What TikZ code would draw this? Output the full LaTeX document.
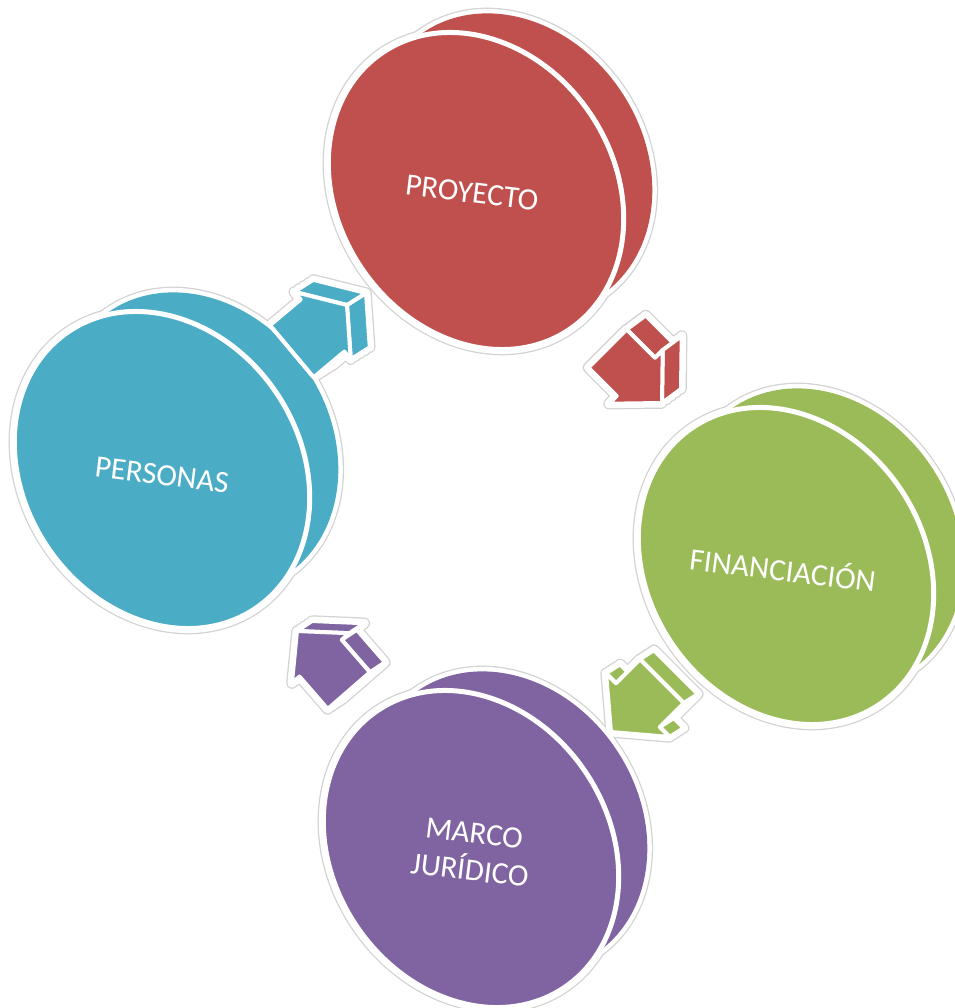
\documentclass[tikz,border=0pt]{standalone}
\usepackage{fontspec}
\setmainfont{Carlito}
\usetikzlibrary{calc}
\definecolor{cred}{HTML}{C0504D}
\definecolor{cblue}{HTML}{4BACC6}
\definecolor{cgreen}{HTML}{9BBB59}
\definecolor{cpurple}{HTML}{8064A2}
\definecolor{halogray}{HTML}{D2D2D2}
\tikzset{
 grayhalo/.style={draw=halogray, line width=11.5pt, line join=round},
 whitehalo/.style={draw=white, line width=9pt, line join=round},
 disclabel/.style={text=white, font=\fontsize{31}{37}\selectfont, rotate=-7, align=center, inner sep=0pt},
 facestroke/.style={draw=white, line width=4pt, line join=round},
}
% discs: centre, offset, scale, options
\newcommand\discpath[4]{%
 \begin{scope}[shift={($(#1)+#2$)},rotate=-56]
  \path[#4] (0,0) ellipse [x radius=#3*167pt, y radius=#3*138pt];
 \end{scope}}
\newcommand\discall[2]{\discpath{#1}{(36,-27)}{0.95}{#2}\discpath{#1}{(0,0)}{1}{#2}}
\newcommand\discbody[2]{%
 \discpath{#1}{(36,-27)}{0.95}{fill=#2}%
 \discpath{#1}{(0,0)}{1}{fill=#2, draw=white, line width=5pt}}
% block arrows: prefix, tip, angle, head length, head half width, shaft half width, shaft length
\newcommand\setarrow[7]{%
 \begin{scope}[shift={#2},rotate=#3]
  \coordinate (#1v4) at (0,0);
  \coordinate (#1v3) at (-#4,#5);
  \coordinate (#1v5) at (-#4,-#5);
  \coordinate (#1v2) at (-#4,#6);
  \coordinate (#1v6) at (-#4,-#6);
  \coordinate (#1v1) at ({-#4-#7},#6);
  \coordinate (#1v7) at ({-#4-#7},-#6);
 \end{scope}}
\newcommand\arrowsil[3]{%
 \foreach \t in {0,0.25,0.5,0.75,1}{%
  \path[#3] ($(#1v1)+\t*#2$) -- ($(#1v2)+\t*#2$) -- ($(#1v3)+\t*#2$) -- ($(#1v4)+\t*#2$) -- ($(#1v5)+\t*#2$) -- ($(#1v6)+\t*#2$) -- ($(#1v7)+\t*#2$) -- cycle;}}
\newcommand\aquad[5]{%
 \filldraw[fill=#5, facestroke] (#1v#2) -- (#1v#3) -- ($(#1v#3)+#4$) -- ($(#1v#2)+#4$) -- cycle;}
\newcommand\afront[2]{%
 \filldraw[fill=#2, facestroke] (#1v1) -- (#1v2) -- (#1v3) -- (#1v4) -- (#1v5) -- (#1v6) -- (#1v7) -- cycle;}
\newcommand\aallquads[3]{%
 \aquad{#1}{1}{2}{#2}{#3}\aquad{#1}{2}{3}{#2}{#3}\aquad{#1}{3}{4}{#2}{#3}%
 \aquad{#1}{4}{5}{#2}{#3}\aquad{#1}{5}{6}{#2}{#3}\aquad{#1}{6}{7}{#2}{#3}%
 \aquad{#1}{7}{1}{#2}{#3}}
\begin{document}
\begin{tikzpicture}[x=1pt,y=-1pt]
\useasboundingbox (0,0) rectangle (954,1008);
\fill[white] (0,0) rectangle (954,1008);
% disc centres
\coordinate (cProy) at (476,191);
\coordinate (cPers) at (162,470);
\coordinate (cFin) at (786,566);
\coordinate (cMarco) at (471,849);
% arrows geometry
\setarrow{r}{(662,403)}{-45}{37}{38}{27}{40}
\setarrow{b}{(347,305)}{40}{32}{44}{34}{40}
\setarrow{g}{(611,732)}{-135}{38}{45}{31}{34}
\setarrow{p}{(297,631)}{131}{36}{38}{28}{43}
% halos
\foreach \c in {cProy,cPers,cFin,cMarco}{\discall{\c}{grayhalo}}
\arrowsil{r}{(19,-14)}{grayhalo}
\arrowsil{b}{(19,-12)}{grayhalo}
\arrowsil{g}{(14,-9)}{grayhalo}
\arrowsil{p}{(15,-10)}{grayhalo}
\foreach \c in {cProy,cPers,cFin,cMarco}{\discall{\c}{whitehalo}}
\arrowsil{r}{(19,-14)}{whitehalo}
\arrowsil{b}{(19,-12)}{whitehalo}
\arrowsil{g}{(14,-9)}{whitehalo}
\arrowsil{p}{(15,-10)}{whitehalo}
% discs
\discbody{cProy}{cred}
\discbody{cPers}{cblue}
\discbody{cFin}{cgreen}
\discbody{cMarco}{cpurple}
% arrows
\aallquads{r}{(19,-14)}{cred}
\aquad{r}{6}{7}{(19,-14)}{cred}
\aquad{r}{4}{5}{(19,-14)}{cred}
\afront{r}{cred}
\aallquads{b}{(19,-12)}{cblue}
\aquad{b}{1}{2}{(19,-12)}{cblue}
\aquad{b}{3}{4}{(19,-12)}{cblue}
\aquad{b}{4}{5}{(19,-12)}{cblue}
\afront{b}{cblue}
\aallquads{g}{(14,-9)}{cgreen}
\aquad{g}{6}{7}{(14,-9)}{cgreen}
\aquad{g}{7}{1}{(14,-9)}{cgreen}
\aquad{g}{2}{3}{(14,-9)}{cgreen}
\aquad{g}{5}{6}{(14,-9)}{cgreen}
\afront{g}{cgreen}
\aallquads{p}{(15,-10)}{cpurple}
\aquad{p}{2}{3}{(15,-10)}{cpurple}
\aquad{p}{1}{2}{(15,-10)}{cpurple}
\aquad{p}{3}{4}{(15,-10)}{cpurple}
\afront{p}{cpurple}
% labels
\node[disclabel] (tProy) at (472,193) {PROYECTO};
\node[disclabel] (tPers) at (162,475) {PERSONAS};
\node[disclabel] (tFin) at (783,568) {FINANCIACIÓN};
\node[disclabel] (tMarco) at (472,852) {MARCO\\JURÍDICO};
\end{tikzpicture}
\end{document}
